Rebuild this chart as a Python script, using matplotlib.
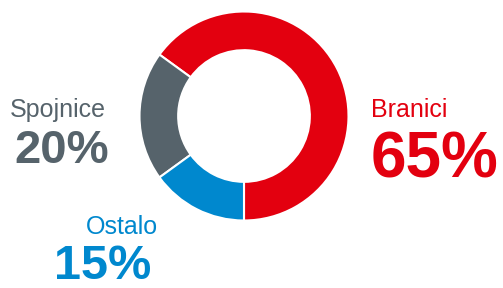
import matplotlib.pyplot as plt

# Dados do gráfico
categorias = ["Branici", "Spojnice", "Ostalo"]
valores = [65, 20, 15]
cores = ["#E3000F", "#56636B", "#0088CE"]

W, H = 503, 288
fig = plt.figure(figsize=(W / 100, H / 100), dpi=100)
plt.rcParams["font.family"] = ["Liberation Sans", "DejaVu Sans"]

# Donut
cx, cy, r = 244, 116, 104.5
ax = fig.add_axes([(cx - r) / W, (H - cy - r) / H, 2 * r / W, 2 * r / H])
ax.pie(
    valores,
    colors=cores,
    startangle=270,
    counterclock=True,
    wedgeprops=dict(width=0.37, edgecolor="white", linewidth=1.5),
)
ax.set_xlim(-1, 1)
ax.set_ylim(-1, 1)
ax.set_aspect("equal")


def texto(x, y, s, cor, tamanho, peso="normal"):
    fig.text(x / W, 1 - y / H, s, color=cor, fontsize=tamanho,
             fontweight=peso, ha="left", va="baseline")


# Rótulos
texto(10, 117, categorias[1], cores[1], 18)
texto(14, 163, f"{valores[1]}%", cores[1], 34, "bold")

texto(371, 117, categorias[0], cores[0], 18)
texto(371, 177, f"{valores[0]}%", cores[0], 46, "bold")

texto(86, 234, categorias[2], cores[2], 18)
texto(54, 279, f"{valores[2]}%", cores[2], 35, "bold")

plt.savefig("out.png", dpi=100)
